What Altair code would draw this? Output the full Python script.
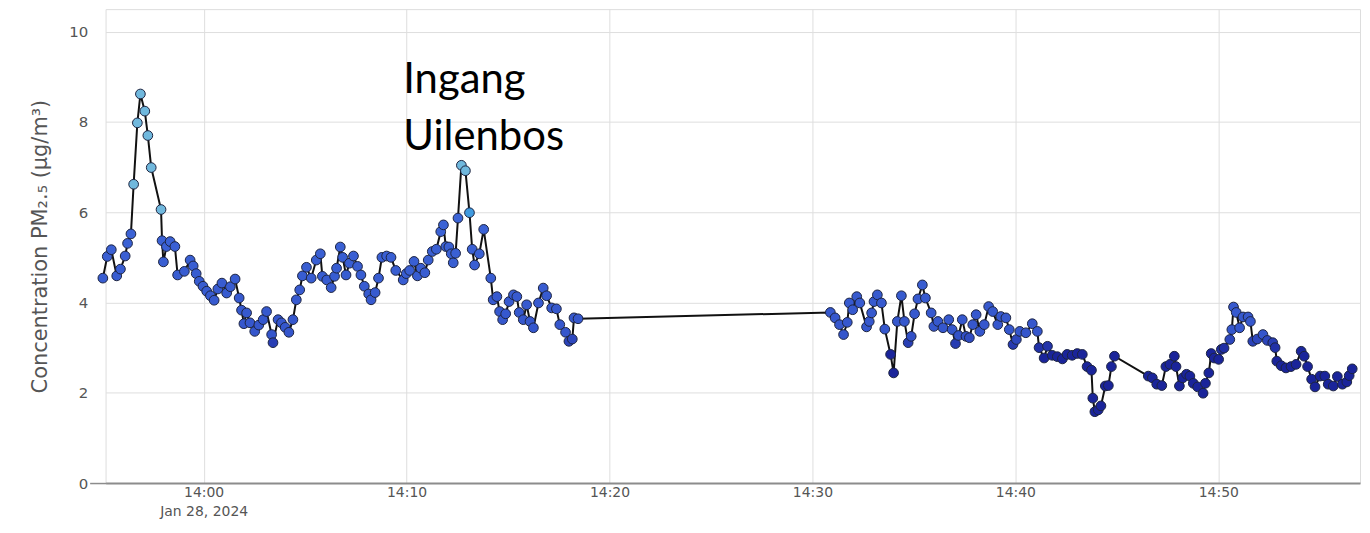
import altair as alt
import pandas as pd

# ---- data ----
times_1 = ["13:55:02","13:55:15","13:55:27","13:55:43","13:55:54","13:56:08","13:56:15","13:56:25","13:56:33","13:56:44",
           "13:56:53","13:57:06","13:57:15","13:57:25","13:57:54","13:57:57","13:58:01","13:58:10","13:58:21","13:58:35",
           "13:58:43","13:59:03","13:59:20","13:59:29","13:59:38","13:59:47","13:59:58","14:00:09","14:00:20","14:00:31",
           "14:00:42","14:00:54","14:01:08","14:01:19","14:01:33","14:01:45","14:01:52","14:01:59","14:02:07","14:02:17",
           "14:02:31","14:02:43","14:02:56","14:03:06","14:03:21","14:03:25","14:03:40","14:03:50","14:04:01","14:04:12",
           "14:04:24","14:04:34","14:04:44","14:04:52","14:05:04","14:05:18","14:05:33","14:05:45","14:05:51","14:06:04",
           "14:06:17","14:06:27","14:06:33","14:06:44","14:06:51","14:07:01","14:07:11","14:07:23","14:07:35","14:07:45",
           "14:07:55","14:08:08","14:08:15","14:08:27","14:08:37","14:08:47","14:09:01","14:09:14","14:09:28","14:09:50",
           "14:09:59","14:10:09","14:10:22","14:10:32","14:10:42","14:10:54","14:11:04","14:11:16","14:11:28","14:11:41",
           "14:11:49","14:11:56","14:12:05","14:12:12","14:12:18","14:12:25","14:12:32","14:12:42","14:12:54","14:13:06",
           "14:13:14","14:13:21","14:13:35","14:13:48","14:14:09","14:14:16","14:14:27","14:14:35","14:14:44","14:14:53",
           "14:15:03","14:15:16","14:15:26","14:15:33","14:15:45","14:15:55","14:16:05","14:16:15","14:16:30","14:16:44",
           "14:16:54","14:17:09","14:17:23","14:17:33","14:17:50","14:18:00","14:18:10","14:18:15","14:18:27"]
values_1 = [4.54,5.02,5.17,4.59,4.74,5.03,5.31,5.52,6.62,7.98,
            8.62,8.24,7.70,6.99,6.06,5.37,4.90,5.24,5.35,5.24,
            4.61,4.69,4.94,4.81,4.64,4.47,4.36,4.25,4.15,4.05,
            4.30,4.43,4.21,4.35,4.52,4.10,3.83,3.53,3.77,3.55,
            3.36,3.50,3.62,3.80,3.29,3.11,3.62,3.55,3.45,3.34,
            3.62,4.06,4.28,4.59,4.78,4.54,4.94,5.08,4.58,4.50,
            4.33,4.58,4.76,5.23,5.00,4.61,4.87,5.03,4.80,4.61,
            4.36,4.19,4.06,4.22,4.54,5.00,5.03,5.00,4.71,4.50,
            4.64,4.71,4.91,4.59,4.76,4.66,4.94,5.13,5.18,5.57,
            5.72,5.24,5.23,5.08,4.88,5.09,5.87,7.04,6.92,5.99,
            5.18,4.83,5.08,5.62,4.54,4.06,4.13,3.80,3.62,3.75,
            4.02,4.17,4.13,3.78,3.62,3.95,3.58,3.44,3.99,4.32,
            4.15,3.88,3.86,3.51,3.34,3.14,3.19,3.66,3.64]

times_2 = ["14:30:53","14:31:07","14:31:20","14:31:32","14:31:43","14:31:49","14:31:59","14:32:11","14:32:20","14:32:40",
           "14:32:48","14:32:55","14:33:02","14:33:12","14:33:24","14:33:34","14:33:51","14:34:00","14:34:11","14:34:23",
           "14:34:32","14:34:43","14:34:52","14:35:02","14:35:12","14:35:25","14:35:34","14:35:51","14:35:59","14:36:11",
           "14:36:26","14:36:43","14:36:53","14:37:03","14:37:12","14:37:23","14:37:34","14:37:44","14:37:54","14:38:04",
           "14:38:15","14:38:28","14:38:41","14:38:53","14:39:08","14:39:17","14:39:32","14:39:42","14:39:53","14:40:03",
           "14:40:13","14:40:31","14:40:50","14:41:05","14:41:10","14:41:25","14:41:35","14:41:49","14:42:04","14:42:19",
           "14:42:33","14:42:48","14:43:03","14:43:18","14:43:32","14:43:45","14:43:49","14:43:55","14:44:05","14:44:13",
           "14:44:26","14:44:35","14:44:44","14:44:53","14:46:33","14:46:45","14:46:58","14:47:13","14:47:25","14:47:37",
           "14:47:50","14:47:55","14:48:05","14:48:15","14:48:26","14:48:36","14:48:46","14:48:59","14:49:15","14:49:22",
           "14:49:32","14:49:39","14:49:48","14:50:01","14:50:09","14:50:17","14:50:34","14:50:40","14:50:45","14:50:53",
           "14:51:03","14:51:13","14:51:28","14:51:35","14:51:42","14:51:55","14:52:12","14:52:25","14:52:41","14:52:48",
           "14:52:53","14:53:06","14:53:20","14:53:35","14:53:50","14:54:05","14:54:14","14:54:24","14:54:36","14:54:46",
           "14:55:01","14:55:15","14:55:25","14:55:40","14:55:52","14:56:07","14:56:20","14:56:27","14:56:36"]
values_2 = [3.78,3.66,3.51,3.29,3.56,3.99,3.84,4.13,3.99,3.46,
            3.58,3.77,4.02,4.17,3.99,3.41,2.85,2.44,3.58,4.15,
            3.58,3.11,3.25,3.75,4.08,4.39,4.10,3.77,3.47,3.58,
            3.44,3.62,3.40,3.09,3.27,3.62,3.25,3.22,3.51,3.73,
            3.36,3.51,3.91,3.80,3.51,3.69,3.66,3.40,3.07,3.18,
            3.36,3.33,3.53,3.36,3.00,2.77,3.03,2.83,2.80,2.75,
            2.85,2.83,2.87,2.85,2.58,2.50,1.88,1.58,1.62,1.71,
            2.15,2.16,2.58,2.81,2.37,2.33,2.19,2.16,2.58,2.63,
            2.81,2.58,2.15,2.33,2.41,2.37,2.21,2.13,1.99,2.21,
            2.44,2.87,2.77,2.74,2.96,2.99,3.18,3.40,3.90,3.78,
            3.44,3.68,3.68,3.58,3.14,3.19,3.29,3.16,3.11,3.00,
            2.70,2.60,2.55,2.58,2.63,2.92,2.81,2.58,2.30,2.13,
            2.37,2.37,2.19,2.15,2.36,2.19,2.24,2.38,2.53]

date = "2024-01-28"
tick_minutes = [0, 10, 20, 30, 40, 50]
y_ticks = [0, 2, 4, 6, 8, 10]
annotation_text = "Ingang\nUilenbos"
annotation_time = "14:09:50"
annotation_value = 8.65
y_title = "Concentration PM\u2082.\u2085 (\u00b5g/m\u00b3)"

df = pd.DataFrame({
    "time": [f"{date}T{t}" for t in times_1 + times_2],
    "pm": values_1 + values_2,
})
ann = pd.DataFrame({"time": [f"{date}T{annotation_time}"], "pm": [annotation_value], "label": [annotation_text]})

FONT = "DejaVu Sans"

x_enc = alt.X(
    "time:T",
    scale=alt.Scale(domain=[alt.DateTime(year=2024, month=1, date=28, hours=13, minutes=55, seconds=10),
                            alt.DateTime(year=2024, month=1, date=28, hours=14, minutes=56, seconds=59)]),
    axis=alt.Axis(
        title=None,
        values=[alt.DateTime(year=2024, month=1, date=28, hours=14, minutes=m) for m in tick_minutes],
        labelExpr="minutes(datum.value) == 0 ? [timeFormat(datum.value, '%H:%M'), timeFormat(datum.value, '%b %d, %Y')] : timeFormat(datum.value, '%H:%M')",
        ticks=False,
        labelPadding=3,
        labelLineHeight=19,
        domainColor="#8c8c8c",
        domainWidth=2,
        gridColor="#dedede",
        labelColor="#555555",
        labelFont=FONT,
        labelFontSize=14,
    ),
)
y_enc = alt.Y(
    "pm:Q",
    scale=alt.Scale(domain=[0, 10.5], nice=False),
    axis=alt.Axis(
        title=y_title,
        values=y_ticks,
        domain=False,
        tickSize=16,
        tickColor={"condition": {"test": "datum.value == 0", "value": "#8c8c8c"}, "value": "transparent"},
        tickWidth=1.5,
        labelPadding=2,
        gridColor="#dedede",
        labelColor="#555555",
        labelFont=FONT,
        labelFontSize=15,
        titleFont=FONT,
        titleFontSize=21,
        titleFontWeight="normal",
        titleColor="#555555",
        titlePadding=18,
    ),
)

line = alt.Chart(df).mark_line(color="#111111", strokeWidth=2).encode(x=x_enc, y=y_enc)
points = alt.Chart(df).mark_circle(size=95, opacity=1, stroke="#1c2340", strokeWidth=1).encode(
    x="time:T",
    y="pm:Q",
    color=alt.Color(
        "pm:Q",
        scale=alt.Scale(domain=[2.9, 3.3, 5.9, 6.05], range=["#1a249a", "#3556cc", "#3c64d6", "#70b8dd"], clamp=True),
        legend=None,
    ),
)
text = alt.Chart(ann).mark_text(
    align="left", baseline="alphabetic", font="Lato", fontSize=42, lineHeight=58,
    lineBreak="\n", color="#000000",
).encode(x="time:T", y="pm:Q", text="label:N")

chart = alt.layer(line, points, text).properties(
    width=1260,
    height=476,
    autosize=alt.AutoSizeParams(type="none"),
    padding={"left": 98, "top": 0, "right": 2, "bottom": 41},
).configure_view(fill="#f2f2f2", stroke="transparent").configure(background="#ffffff")

chart.save("out.html", embed_options={"renderer": "svg", "actions": False})
